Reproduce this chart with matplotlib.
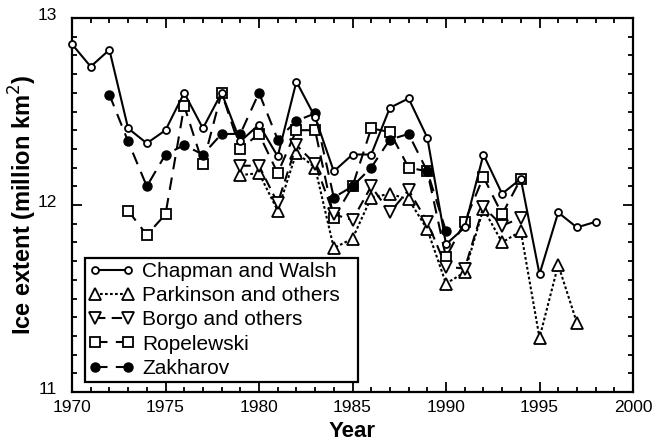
import matplotlib
matplotlib.use("Agg")
import matplotlib.pyplot as plt
import matplotlib.transforms as mtransforms
from matplotlib.ticker import MultipleLocator

plt.rcParams['font.family'] = ['Liberation Sans', 'DejaVu Sans']

chapman_years = list(range(1970, 1999))
chapman = [12.86, 12.74, 12.83, 12.41, 12.33, 12.40, 12.60, 12.41, 12.60, 12.34,
           12.43, 12.26, 12.66, 12.47, 12.18, 12.27, 12.27, 12.52, 12.57, 12.36,
           11.79, 11.88, 12.27, 12.06, 12.14, 11.63, 11.96, 11.88, 11.91]

parkinson_years = list(range(1979, 1998))
parkinson = [12.16, 12.17, 11.97, 12.28, 12.20, 11.77, 11.82, 12.04, 12.06, 12.03,
             11.87, 11.58, 11.64, 11.98, 11.80, 11.86, 11.29, 11.68, 11.37]

borgo_years = list(range(1979, 1995))
borgo = [12.21, 12.21, 12.01, 12.32, 12.22, 11.95, 11.92, 12.10, 11.96, 12.08,
         11.91, 11.67, 11.66, 11.99, 11.89, 11.93]

ropelewski_years = list(range(1973, 1995))
ropelewski = [11.97, 11.84, 11.95, 12.53, 12.22, 12.60, 12.30, 12.38, 12.17, 12.40,
              12.40, 11.93, 12.10, 12.41, 12.39, 12.20, 12.18, 11.72, 11.91, 12.15,
              11.95, 12.14]

zakharov_years = list(range(1972, 1991))
zakharov = [12.59, 12.34, 12.10, 12.27, 12.32, 12.27, 12.38, 12.38, 12.60, 12.35,
            12.45, 12.49, 12.04, 12.10, 12.20, 12.35, 12.38, 12.18, 11.86]

labels = ["Chapman and Walsh", "Parkinson and others", "Borgo and others",
          "Ropelewski", "Zakharov"]

fig = plt.figure(figsize=(6.64, 4.44), dpi=100)
ax = fig.add_axes([72/664, 1-392/444, (633-72)/664, (392-18)/444])

lw = 1.5
ax.plot(chapman_years, chapman, '-', color='black', lw=lw, marker='o', ms=5,
        mfc='white', mec='black', mew=1.3, label=labels[0], clip_on=False, zorder=5)
ax.plot(parkinson_years, parkinson, color='black', lw=lw, ls=(0, (1.3, 1.1)), marker='^',
        ms=8.5, mfc='white', mec='black', mew=1.3, label=labels[1], zorder=4)
ax.plot(borgo_years, borgo, color='black', lw=lw, ls=(0, (5, 3)), marker='v',
        ms=8.5, mfc='white', mec='black', mew=1.3, label=labels[2], zorder=4)
ax.plot(ropelewski_years, ropelewski, color='black', lw=lw, ls=(0, (6, 4)), marker='s',
        ms=6.5, mfc='white', mec='black', mew=1.3, label=labels[3], zorder=3)
ax.plot(zakharov_years, zakharov, color='black', lw=lw, ls=(0, (6, 4)), marker='o',
        ms=6.5, mfc='black', mec='black', mew=1.0, label=labels[4], zorder=3)

ax.set_xlim(1970, 2000)
ax.set_ylim(11, 13)
ax.xaxis.set_major_locator(MultipleLocator(5))
ax.xaxis.set_minor_locator(MultipleLocator(1))
ax.yaxis.set_major_locator(MultipleLocator(1))
ax.yaxis.set_minor_locator(MultipleLocator(0.1))
ax.tick_params(which='both', direction='in', top=True, right=True, width=1.3)
ax.tick_params(which='major', length=7, labelsize=12.5)
ax.tick_params(axis='x', which='major', pad=6)
ax.tick_params(axis='y', which='major', pad=11)
ax.tick_params(which='minor', length=3.5)
for s in ax.spines.values():
    s.set_linewidth(1.6)

# nudge y tick labels slightly upward, as in the reference
offset = mtransforms.ScaledTranslation(0, 4/100, fig.dpi_scale_trans)
for lbl in ax.get_yticklabels():
    lbl.set_transform(lbl.get_transform() + offset)

ax.set_xlabel("Year", fontsize=16, fontweight='bold', labelpad=4)
ax.set_ylabel("Ice extent (million km$^2$)", fontsize=17, fontweight='bold', labelpad=-1)

leg = ax.legend(loc='lower left', bbox_to_anchor=(13/561, 10/374, (358-85)/561, 0.0),
                mode='expand', borderaxespad=0,
                fontsize=15, frameon=True, fancybox=False, edgecolor='black',
                handlelength=2.15, handletextpad=0.4, labelspacing=0.25,
                borderpad=0.2, numpoints=2, framealpha=1)
leg.get_frame().set_linewidth(1.6)

fig.savefig("out.png", dpi=100)
